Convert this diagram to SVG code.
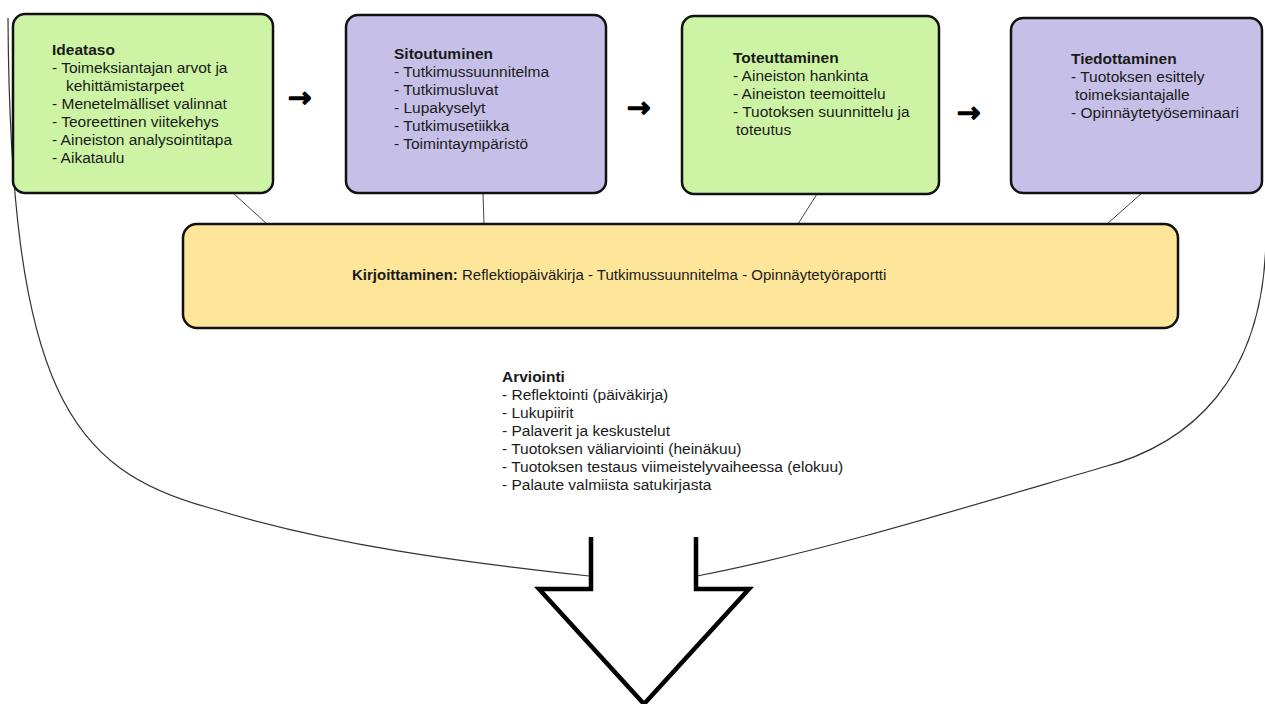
<svg xmlns="http://www.w3.org/2000/svg" width="1265" height="704" viewBox="0 0 1265 704">
<style>
.box{stroke:#111;stroke-width:2.5}
.g{fill:#ccf4a4}.p{fill:#c6c0e8}.y{fill:#fde699}
text{font-family:"Liberation Sans",Arial,sans-serif;font-size:15.5px;fill:#1a1a1a}
.b{font-weight:bold}
.arr{font-family:"DejaVu Sans",sans-serif;font-size:28px;fill:#000;stroke:#000;stroke-width:1.6;stroke-linejoin:round}
.thin{fill:none;stroke:#444;stroke-width:1}
.curve{fill:none;stroke:#333;stroke-width:1.2}
</style>
<rect width="1265" height="704" fill="#fff"/>
<g id="connectors">
<line class="thin" x1="233" y1="193" x2="267" y2="224"/>
<line class="thin" x1="483" y1="193" x2="484" y2="224"/>
<line class="thin" x1="817" y1="194" x2="798" y2="224"/>
<line class="thin" x1="1142" y1="193" x2="1107" y2="224"/>
<path class="curve" d="M8,18 C10,390 70,470 210,508 C330,545 460,562 589,576"/>
<path class="curve" d="M1266,235 C1265,380 1190,445 1100,468 C950,512 820,552 697,576"/>
</g>
<g id="ideataso">
<rect class="box g" x="13" y="14" width="260" height="179" rx="12"/>
<text x="52" y="55" class="b">Ideataso</text>
<text x="52" y="73">- Toimeksiantajan arvot ja</text>
<text x="66" y="91">kehittämistarpeet</text>
<text x="52" y="109">- Menetelmälliset valinnat</text>
<text x="52" y="127">- Teoreettinen viitekehys</text>
<text x="52" y="145">- Aineiston analysointitapa</text>
<text x="52" y="163">- Aikataulu</text>
</g>
<g id="sitoutuminen">
<rect class="box p" x="346" y="15" width="260" height="178" rx="12"/>
<text x="394" y="59" class="b">Sitoutuminen</text>
<text x="394" y="77">- Tutkimussuunnitelma</text>
<text x="394" y="95">- Tutkimusluvat</text>
<text x="394" y="113">- Lupakyselyt</text>
<text x="394" y="131">- Tutkimusetiikka</text>
<text x="394" y="149">- Toimintaympäristö</text>
</g>
<g id="toteuttaminen">
<rect class="box g" x="682" y="16" width="257" height="178" rx="12"/>
<text x="733" y="63" class="b">Toteuttaminen</text>
<text x="733" y="81">- Aineiston hankinta</text>
<text x="733" y="99">- Aineiston teemoittelu</text>
<text x="733" y="117">- Tuotoksen suunnittelu ja</text>
<text x="736" y="135">toteutus</text>
</g>
<g id="tiedottaminen">
<rect class="box p" x="1011" y="18" width="251" height="175" rx="12"/>
<text x="1071" y="64" class="b">Tiedottaminen</text>
<text x="1071" y="82">- Tuotoksen esittely</text>
<text x="1075" y="100">toimeksiantajalle</text>
<text x="1071" y="118">- Opinnäytetyöseminaari</text>
</g>
<g id="arrows">
<text class="arr" x="288" y="107">→</text>
<text class="arr" x="627" y="117">→</text>
<text class="arr" x="957" y="122">→</text>
</g>
<g id="kirjoittaminen">
<rect class="box y" x="183" y="224" width="995" height="104" rx="14"/>
<text x="352" y="280" style="font-size:15px"><tspan class="b">Kirjoittaminen:</tspan> Reflektiopäiväkirja - Tutkimussuunnitelma - Opinnäytetyöraportti</text>
</g>
<g id="arviointi">
<text x="502" y="382" class="b">Arviointi</text>
<text x="502" y="400">- Reflektointi (päiväkirja)</text>
<text x="502" y="418">- Lukupiirit</text>
<text x="502" y="436">- Palaverit ja keskustelut</text>
<text x="502" y="454">- Tuotoksen väliarviointi (heinäkuu)</text>
<text x="502" y="472">- Tuotoksen testaus viimeistelyvaiheessa (elokuu)</text>
<text x="502" y="490">- Palaute valmiista satukirjasta</text>
</g>
<g id="block-arrow">
<polyline points="591,537 591,589 539,589 644,704 749,589 696,589 696,537" fill="none" stroke="#000" stroke-width="4.5" stroke-linejoin="miter"/>
</g>
</svg>
